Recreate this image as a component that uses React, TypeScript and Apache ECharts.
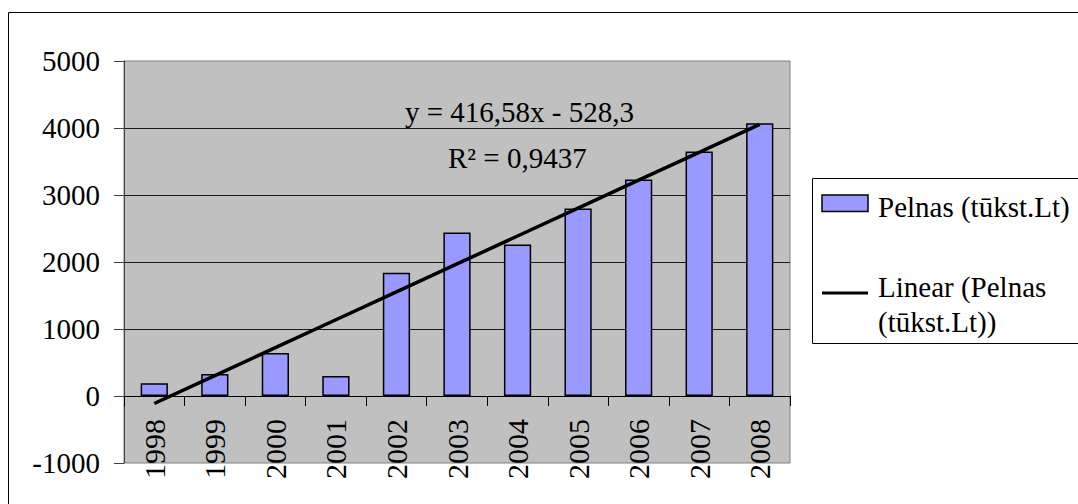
import React, { useEffect, useRef } from "react";
import * as echarts from "echarts";

// Yearly profit (thousand Lt) with a fitted linear trend
const years = ["1998", "1999", "2000", "2001", "2002", "2003", "2004", "2005", "2006", "2007", "2008"];
const profit = [190, 330, 640, 300, 1840, 2440, 2260, 2800, 3230, 3650, 4070];
const yTicks = { min: -1000, max: 5000, step: 1000 };

// Trend line y = a·x + b, x = 1 for the first year
const slope = 416.58;
const intercept = -528.3;
const rSquared = 0.9437;

const seriesName = "Pelnas (tūkst.Lt)";
const trendNameLines = ["Linear (Pelnas", "(tūkst.Lt))"];

const FONT = "Liberation Serif";
const fmt = (v: number) => String(v).replace(".", ",");

export default function App() {
  const ref = useRef<HTMLDivElement>(null);

  useEffect(() => {
    if (!ref.current) return;
    const chart = echarts.init(ref.current, undefined, { renderer: "svg" });
    const trend = years.map((_, i) => +(slope * (i + 1) + intercept).toFixed(2));

    chart.setOption({
      animation: false,
      backgroundColor: "#ffffff",
      textStyle: { fontFamily: FONT },
      grid: {
        left: 124,
        top: 61,
        width: 666,
        height: 402,
        outerBoundsMode: "none",
        containLabel: false,
        show: true,
        backgroundColor: "#C0C0C0",
        borderColor: "#808080",
        borderWidth: 1,
      },
      xAxis: {
        type: "category",
        position: "bottom",
        data: years,
        boundaryGap: true,
        axisLine: { show: true, onZero: true, lineStyle: { color: "#000", width: 1 } },
        axisTick: { show: true, alignWithLabel: false, length: 10, lineStyle: { color: "#000" } },
        axisLabel: {
          rotate: 90,
          // pull the year labels up so they hang just below the zero line
          margin: -44,
          interval: 0,
          hideOverlap: false,
          color: "#000",
          fontFamily: FONT,
          fontSize: 30,
        },
      },
      yAxis: {
        type: "value",
        min: yTicks.min,
        max: yTicks.max,
        interval: yTicks.step,
        axisLine: { show: true, lineStyle: { color: "#404040", width: 1 } },
        axisTick: { show: true, length: 10, lineStyle: { color: "#404040" } },
        axisLabel: {
          margin: 24,
          color: "#000",
          fontFamily: FONT,
          fontSize: 29,
          formatter: (v: number) => String(v),
        },
        splitLine: {
          show: true,
          showMinLine: false,
          showMaxLine: false,
          lineStyle: { color: "#1a1a1a", width: 1 },
        },
      },
      legend: { show: false },
      series: [
        {
          name: seriesName,
          type: "bar",
          data: profit,
          barWidth: "45%",
          itemStyle: { color: "#9999FF", borderColor: "#000", borderWidth: 1.5 },
        },
        {
          name: trendNameLines.join(" "),
          type: "line",
          data: trend,
          symbol: "none",
          lineStyle: { color: "#000", width: 3.5 },
          z: 5,
        },
      ],
      graphic: [
        // outer chart frame
        {
          type: "rect",
          shape: { x: 8.5, y: 12.5, width: 1200, height: 600 },
          style: { fill: "none", stroke: "#000", lineWidth: 1 },
          silent: true,
        },
        // trend equation
        {
          type: "text",
          x: 405,
          y: 112,
          style: {
            text: `y = ${fmt(slope)}x - ${fmt(Math.abs(intercept))}`,
            fontFamily: FONT,
            fontSize: 29,
            fill: "#000",
            verticalAlign: "middle",
          },
          z: 10,
        },
        {
          type: "text",
          x: 448,
          y: 158,
          style: {
            text: `R² = ${fmt(rSquared)}`,
            fontFamily: FONT,
            fontSize: 29,
            fill: "#000",
            verticalAlign: "middle",
          },
          z: 10,
        },
        // legend
        {
          type: "rect",
          shape: { x: 812.5, y: 178.5, width: 400, height: 165 },
          style: { fill: "#fff", stroke: "#000", lineWidth: 1 },
        },
        {
          type: "rect",
          shape: { x: 822, y: 195, width: 46, height: 16.5 },
          style: { fill: "#9999FF", stroke: "#000", lineWidth: 1.5 },
        },
        {
          type: "text",
          x: 878,
          y: 207,
          style: { text: seriesName, fontFamily: FONT, fontSize: 29, fill: "#000", verticalAlign: "middle" },
        },
        {
          type: "line",
          shape: { x1: 822, y1: 293, x2: 868, y2: 293 },
          style: { stroke: "#000", lineWidth: 3 },
        },
        {
          type: "text",
          x: 878,
          y: 287,
          style: { text: trendNameLines[0], fontFamily: FONT, fontSize: 29, fill: "#000", verticalAlign: "middle" },
        },
        {
          type: "text",
          x: 878,
          y: 322,
          style: { text: trendNameLines[1], fontFamily: FONT, fontSize: 29, fill: "#000", verticalAlign: "middle" },
        },
      ],
    });

    return () => chart.dispose();
  }, []);

  return (
    <div
      ref={ref}
      style={{ position: "fixed", left: 0, top: 0, width: 1078, height: 504, background: "#fff" }}
    />
  );
}
